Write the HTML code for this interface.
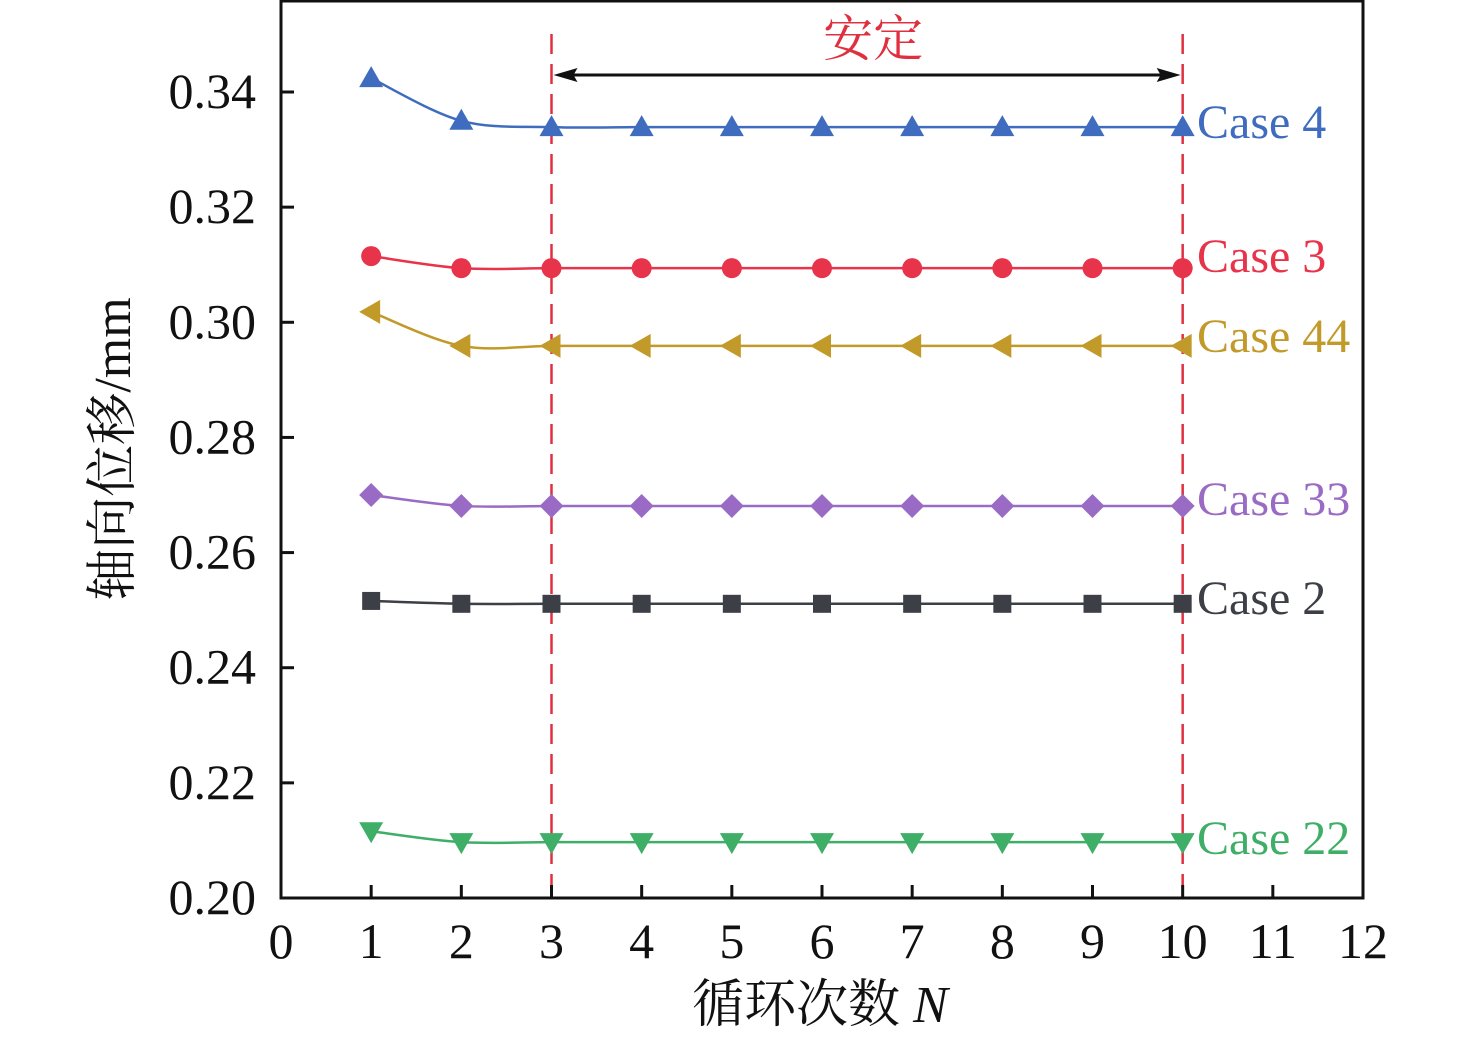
<!DOCTYPE html>
<html><head><meta charset="utf-8"><style>
body{margin:0;background:#fff}
svg text{font-family:"Liberation Serif","Noto Serif CJK SC",serif}
</style></head><body>
<svg width="1476" height="1040" viewBox="0 0 1476 1040" xmlns="http://www.w3.org/2000/svg" font-family="Liberation Serif, Noto Serif CJK SC, serif">
<g id="plot"></g>
</svg>
<script>
const xTicks=[0,1,2,3,4,5,6,7,8,9,10,11,12];
const yTicks=[0.20,0.22,0.24,0.26,0.28,0.30,0.32,0.34];
const cycles=[1,2,3,4,5,6,7,8,9,10];
const case4=[0.3424,0.3350,0.3339,0.3339,0.3339,0.3339,0.3339,0.3339,0.3339,0.3339];
const case3=[0.3115,0.3094,0.3094,0.3094,0.3094,0.3094,0.3094,0.3094,0.3094,0.3094];
const case44=[0.3018,0.2959,0.2959,0.2959,0.2959,0.2959,0.2959,0.2959,0.2959,0.2959];
const case33=[0.2700,0.2681,0.2681,0.2681,0.2681,0.2681,0.2681,0.2681,0.2681,0.2681];
const case2=[0.2516,0.2511,0.2511,0.2511,0.2511,0.2511,0.2511,0.2511,0.2511,0.2511];
const case22=[0.2116,0.2097,0.2097,0.2097,0.2097,0.2097,0.2097,0.2097,0.2097,0.2097];
const stableRange=[3,10];

const NS="http://www.w3.org/2000/svg";
const L=281,R=1363,T=1,B=898;
const X=v=>L+(v-0)/12*(R-L);
const Y=v=>B-(v-0.20)/0.14*(898-92);
const g=document.getElementById('plot');
function mk(tag,attrs,parent){const e=document.createElementNS(NS,tag);for(const k in attrs)e.setAttribute(k,attrs[k]);(parent||g).appendChild(e);return e;}

stableRange.forEach(v=>{
  const e=mk('line',{x1:X(v),x2:X(v),y1:34,y2:B,stroke:'#e03040','stroke-width':2.5,'stroke-dasharray':'20 10'});
  
  
});
const ar=mk('g',{});


mk('line',{x1:X(stableRange[0])+20,x2:X(stableRange[1])-20,y1:75,y2:75,stroke:'#111','stroke-width':3},ar);
mk('polygon',{points:`${X(stableRange[0])+2},75 ${X(stableRange[0])+26},68 ${X(stableRange[0])+22},75 ${X(stableRange[0])+26},82`,fill:'#111'},ar);
mk('polygon',{points:`${X(stableRange[1])-2},75 ${X(stableRange[1])-26},68 ${X(stableRange[1])-22},75 ${X(stableRange[1])-26},82`,fill:'#111'},ar);
const st=mk('text',{x:(X(stableRange[0])+X(stableRange[1]))/2+6,y:56,'text-anchor':'middle','font-size':50,fill:'#e03040'});
st.textContent='安定';



function marker(shape,x,y,color,p){
  if(shape==='tri')return mk('polygon',{points:`${x},${y-12} ${x-12},${y+9} ${x+12},${y+9}`,fill:color},p);
  if(shape==='tridown')return mk('polygon',{points:`${x},${y+12} ${x-12},${y-9} ${x+12},${y-9}`,fill:color},p);
  if(shape==='triLeft')return mk('polygon',{points:`${x-12},${y} ${x+9},${y-12} ${x+9},${y+12}`,fill:color},p);
  if(shape==='circle')return mk('circle',{cx:x,cy:y,r:10,fill:color},p);
  if(shape==='diamond')return mk('polygon',{points:`${x},${y-12} ${x+12},${y} ${x},${y+12} ${x-12},${y}`,fill:color},p);
  return mk('rect',{x:x-9,y:y-9,width:18,height:18,fill:color},p);
}
function spline(pts){
  let d=`M${pts[0][0]},${pts[0][1]}`;
  for(let i=0;i<pts.length-1;i++){
    const p0=pts[Math.max(i-1,0)],p1=pts[i],p2=pts[i+1],p3=pts[Math.min(i+2,pts.length-1)];
    const c1=[p1[0]+(p2[0]-p0[0])/6,p1[1]+(p2[1]-p0[1])/6];
    const c2=[p2[0]-(p3[0]-p1[0])/6,p2[1]-(p3[1]-p1[1])/6];
    d+=` C${c1[0]},${c1[1]} ${c2[0]},${c2[1]} ${p2[0]},${p2[1]}`;
  }
  return d;
}
const series=[
 {name:'Case 4',vals:case4,color:'#3f6cbf',shape:'tri',key:'case-4'},
 {name:'Case 3',vals:case3,color:'#e8344a',shape:'circle',key:'case-3'},
 {name:'Case 44',vals:case44,color:'#c29a2a',shape:'triLeft',key:'case-44'},
 {name:'Case 33',vals:case33,color:'#9a6bc4',shape:'diamond',key:'case-33'},
 {name:'Case 2',vals:case2,color:'#3c3f46',shape:'square',key:'case-2'},
 {name:'Case 22',vals:case22,color:'#3fae67',shape:'tridown',key:'case-22'}
];
const labelOffsets=[-5,-12,-10,-7,-6,-4];
series.forEach((s,k)=>{
  const grp=mk('g',{});
  
  
  const pts=cycles.map((c,i)=>[X(c),Y(s.vals[i])]);
  mk('path',{d:spline(pts),fill:'none',stroke:s.color,'stroke-width':2.5},grp);
  pts.forEach(p=>{
    const m=marker(s.shape,p[0],p[1],s.color,grp);
    
    
  });
  const lbl=mk('text',{x:1197,y:pts[pts.length-1][1]+16+labelOffsets[k],'font-size':48,fill:s.color});
  lbl.textContent=s.name;
  
  
});

const fr=mk('rect',{x:L,y:T,width:R-L,height:B-T,fill:'none',stroke:'#111','stroke-width':3});


xTicks.forEach(v=>{
  mk('line',{x1:X(v),x2:X(v),y1:B,y2:B-13,stroke:'#111','stroke-width':3});
  const t=mk('text',{x:X(v),y:958,'text-anchor':'middle','font-size':50,fill:'#111'});
  t.textContent=v;
  
  
});
yTicks.forEach(v=>{
  mk('line',{x1:L,x2:L+13,y1:Y(v),y2:Y(v),stroke:'#111','stroke-width':3});
  const t=mk('text',{x:256,y:Y(v)+16,'text-anchor':'end','font-size':50,fill:'#111'});
  t.textContent=v.toFixed(2);
  
  
});
const xt=mk('text',{x:820,y:1022,'text-anchor':'middle','font-size':52,fill:'#111'});
xt.innerHTML='循环次数 <tspan font-style="italic">N</tspan>';


const yt=mk('text',{x:0,y:0,'text-anchor':'middle','font-size':52,fill:'#111',transform:'translate(130,449) rotate(-90)'});
yt.textContent='轴向位移/mm';


</script>
</body></html>
